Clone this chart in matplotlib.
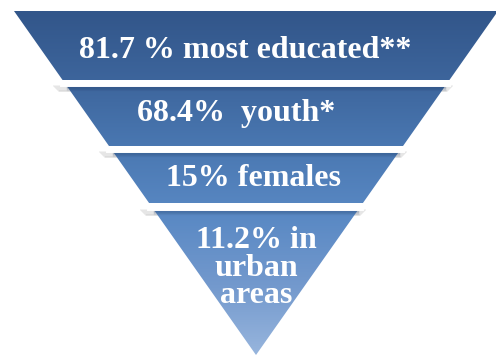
import numpy as np
import matplotlib.pyplot as plt
from matplotlib.patches import Polygon
from matplotlib.colors import LinearSegmentedColormap

labels = ["81.7 % most educated**", "68.4%  youth*", "15% females", "11.2% in\nurban\nareas"]
# band top / bottom in pixel rows
band_top = [11, 86, 152, 210]
band_bot = [80, 146, 203, 355]
text_xy = [(245, 50), (236, 114), (254, 178), (256, 268)]

W, H = 496, 357
cx, apex = 256, 355
slope = 242 / (apex - 11)

fig = plt.figure(figsize=(W / 100, H / 100), dpi=100)
ax = fig.add_axes([0, 0, 1, 1])
ax.set_xlim(0, W)
ax.set_ylim(H, 0)
ax.axis("off")

cmap = LinearSegmentedColormap.from_list(
    "pyr", ["#32568a", "#3d659c", "#4a78b2", "#5a89c4", "#7399cd", "#97b5dd"])
grad = np.linspace(0, 1, 400).reshape(-1, 1)


def half(y):
    return slope * (apex - y)


for i, lab in enumerate(labels):
    t, b = band_top[i], band_bot[i]
    if b >= apex - 1:
        pts = [(cx - half(t), t), (cx + half(t), t), (cx, apex)]
    else:
        pts = [(cx - half(t), t), (cx + half(t), t), (cx + half(b), b), (cx - half(b), b)]
    # soft shadow under the white gap
    if i > 0:
        for k in range(7):
            ax.plot([cx - half(t) - 14 + k, cx + half(t) + 8 - k], [t + k * 0.9, t + k * 0.9],
                    color="#808080", alpha=0.12, lw=1.2, zorder=1, solid_capstyle="butt")
    poly = Polygon(pts, closed=True, facecolor="none", edgecolor="none", zorder=2)
    ax.add_patch(poly)
    im = ax.imshow(grad, cmap=cmap, aspect="auto", extent=[0, W, apex, 11],
                   interpolation="bilinear", zorder=2)
    im.set_clip_path(poly)
    if i > 0:
        for k in range(4):
            ax.plot([cx - half(t), cx + half(t)], [t + 0.5 + k, t + 0.5 + k],
                    color="#1f3a60", alpha=0.25 - k * 0.06, lw=1, zorder=3)
        # white gap line
        ax.plot([cx - half(t) - 4, cx + half(t) + 2], [t - 3, t - 3], color="white", lw=5, zorder=4)
    ax.text(text_xy[i][0], text_xy[i][1], lab, ha="center", va="center", color="white",
            fontsize=23, fontweight="bold", family=["Liberation Serif", "DejaVu Serif"],
            linespacing=0.92, zorder=5)

fig.savefig("out.png", dpi=100)
